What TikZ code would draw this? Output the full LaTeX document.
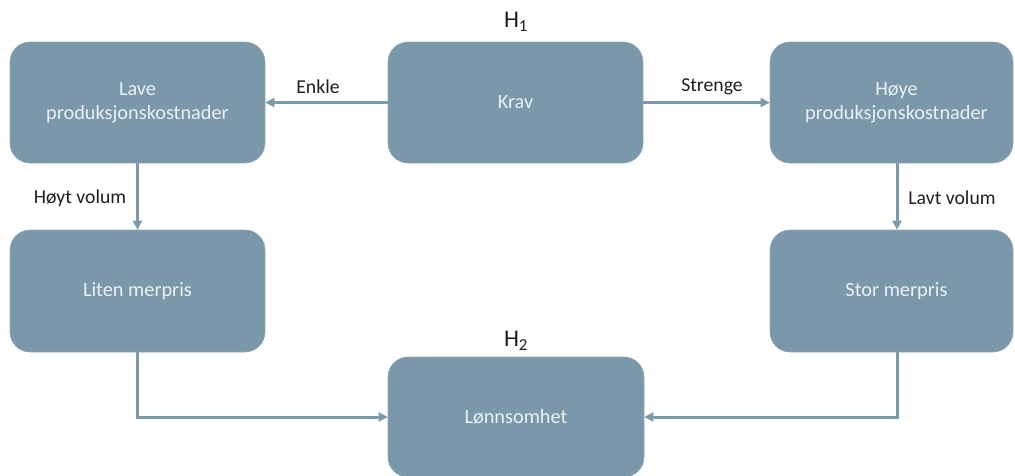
\documentclass[tikz,border=0pt]{standalone}
\usepackage{fontspec}
\setmainfont{Carlito}
\usetikzlibrary{arrows.meta,calc}
\definecolor{boxfill}{HTML}{7B98AA}
\definecolor{boxline}{HTML}{7A9AAE}
\definecolor{boxtext}{HTML}{EAF0F3}
\definecolor{labtext}{HTML}{1E1E1E}
\begin{document}
\begin{tikzpicture}[x=1pt,y=-1pt,
  box/.style={draw=boxfill!85!white, line width=0.6pt, fill=boxfill, rounded corners=20pt,
    text=boxtext, align=center, inner sep=0pt,
    font=\fontsize{20.3}{24}\selectfont},
  conn/.style={draw=boxline, line width=3pt, -{Triangle[length=9pt,width=9pt]}},
  lab/.style={text=labtext, inner sep=0pt, font=\fontsize{19.7}{24}\selectfont},
  hlab/.style={text=labtext, inner sep=0pt, font=\fontsize{24}{27}\selectfont}]
\useasboundingbox (0,0) rectangle (1015,475);
% boxes
\node[box, minimum width=255pt, minimum height=121pt] (lave) at (137.5,102.5) {Lave\\produksjonskostnader};
\node[box, minimum width=255pt, minimum height=121pt] (krav) at (515.5,102.5) {Krav};
\node[box, minimum width=243pt, minimum height=121pt] (hoye) at (891.5,102.5) {\hspace*{10pt}Høye\\\hspace*{10pt}produksjonskostnader};
\node[box, minimum width=255pt, minimum height=122pt] (liten) at (137.5,291) {Liten merpris};
\node[box, minimum width=243pt, minimum height=122pt] (stor) at (891.5,291) {\hspace*{10pt}Stor merpris};
\node[box, minimum width=256pt, minimum height=120pt] (lonn) at (516,417) {Lønnsomhet};
% helper coordinates
\coordinate (rx) at (897,0);
% connectors
\draw[conn] (krav.west) -- (lave.east);
\draw[conn] (krav.east) -- (hoye.west);
\draw[conn] (lave.south) -- (liten.north);
\draw[conn] (hoye.south -| rx) -- (stor.north -| rx);
\draw[conn] (liten.south) |- (lonn.west);
\draw[conn] (stor.south -| rx) |- (lonn.east);
% labels
\node[lab] (enkle) at (318,87) {Enkle};
\node[lab] (strenge) at (712,87) {Strenge};
\node[lab] (hoyt) at (80,198) {Høyt volum};
\node[lab] (lavt) at (952,198) {Lavt volum};
\node[hlab] (h1) at (516,22) {H\textsubscript{1}};
\node[hlab] (h2) at (516,341) {H\textsubscript{2}};
\end{tikzpicture}
\end{document}
